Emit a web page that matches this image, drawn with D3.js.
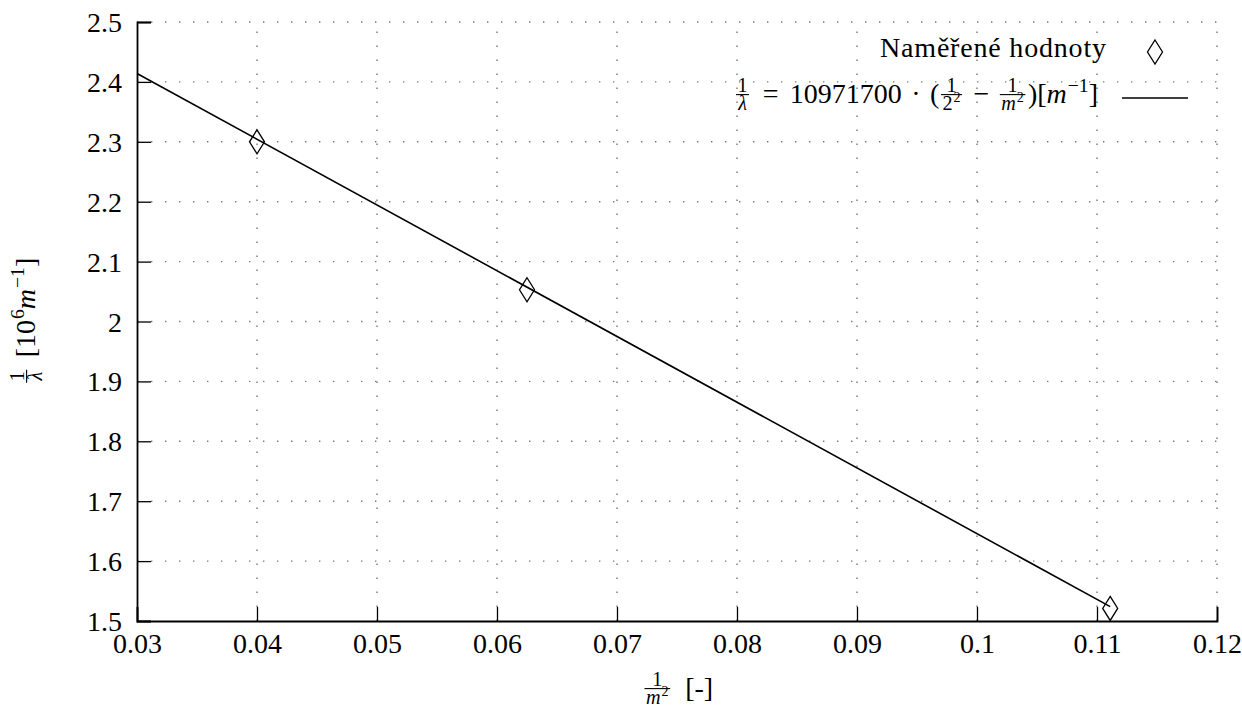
<!DOCTYPE html>
<html lang="cs">
<head>
  <meta charset="UTF-8">
  <title>Balmerova série</title>
  <script src="https://d3js.org/d3.v7.min.js"></script>
  <style>
    body { margin: 0; background: #fff; }
    svg text { font-family: "Liberation Serif", "DejaVu Serif", serif; fill: #000; }
  </style>
</head>
<body>
  <div id="chart"></div>

  <script>
    // data
    const xTicks = [0.03, 0.04, 0.05, 0.06, 0.07, 0.08, 0.09, 0.1, 0.11, 0.12];
    const yTicks = [1.5, 1.6, 1.7, 1.8, 1.9, 2.0, 2.1, 2.2, 2.3, 2.4, 2.5];
    const measX = [0.04, 0.0625, 0.1111];
    const measY = [2.30, 2.053, 1.521];
    const fitX = [0.03, 0.1111];
    const fitY = [2.414, 1.524];
    const legendLabels = ["Naměřené hodnoty", "fit"];

    const SERIF = "'Liberation Serif', 'DejaVu Serif', serif";
    const W = 1242, H = 708;
    const margin = { top: 22, right: 25, bottom: 87, left: 137 };
    const width = W - margin.left - margin.right;
    const height = H - margin.top - margin.bottom;
    const FS = 28;

    const svg = d3.select("#chart").append("svg")
      .attr("width", W)
      .attr("height", H)
      .attr("font-family", SERIF);

    const g = svg.append("g")
      .attr("transform", `translate(${margin.left},${margin.top})`);

    const x = d3.scaleLinear().domain([0.03, 0.12]).range([0, width]);
    const y = d3.scaleLinear().domain([1.5, 2.5]).range([height, 0]);

    // dotted grid
    g.append("g").selectAll("line")
      .data(xTicks.slice(1))
      .enter().append("line")
      .attr("x1", d => x(d)).attr("x2", d => x(d))
      .attr("y1", height).attr("y2", 0)
      .attr("stroke", "#777").attr("stroke-width", 1.4)
      .attr("stroke-dasharray", "1.4,12.6");

    g.append("g").selectAll("line")
      .data(yTicks.slice(1))
      .enter().append("line")
      .attr("x1", 0).attr("x2", width)
      .attr("y1", d => y(d)).attr("y2", d => y(d))
      .attr("stroke", "#777").attr("stroke-width", 1.4)
      .attr("stroke-dasharray", "1.4,12.6");

    // axes (left + bottom, ticks inside)
    const axX = g.append("g")
      .attr("transform", `translate(0,${height})`)
      .call(d3.axisBottom(x).tickValues(xTicks).tickSize(-14).tickPadding(12)
        .tickFormat(d => d3.format("~g")(+d.toFixed(2))));
    const axY = g.append("g")
      .call(d3.axisLeft(y).tickValues(yTicks).tickSize(-14).tickPadding(15)
        .tickFormat(d => d3.format("~g")(+d.toFixed(1))));

    [axX, axY].forEach(ax => {
      ax.attr("font-family", SERIF).attr("font-size", FS);
      ax.select(".domain").attr("stroke", "#000").attr("stroke-width", 1.8);
      ax.selectAll(".tick line").attr("stroke", "#000").attr("stroke-width", 1.3);
      ax.selectAll(".tick text")
        .style("font-family", SERIF)
        .style("font-size", FS + "px");
    });
    axY.selectAll(".tick text").attr("dy", "0.34em");
    axX.selectAll(".tick text").attr("dy", "0.72em");

    // fit line
    g.append("path")
      .datum(fitX.map((d, i) => [d, fitY[i]]))
      .attr("d", d3.line().x(d => x(d[0])).y(d => y(d[1])))
      .attr("fill", "none")
      .attr("stroke", "#000")
      .attr("stroke-width", 1.6);

    // measured points
    const diamond = "M0,-12L7.5,0L0,12L-7.5,0Z";
    g.selectAll(".pt")
      .data(measX.map((d, i) => [d, measY[i]]))
      .enter().append("path")
      .attr("class", "pt")
      .attr("d", diamond)
      .attr("transform", d => `translate(${x(d[0])},${y(d[1])})`)
      .attr("fill", "none")
      .attr("stroke", "#000")
      .attr("stroke-width", 1.3);

    // --- small math typesetter: pieces laid out left to right ---
    function layout(parent, pieces, x0, base, size) {
      let cx = x0;
      pieces.forEach(p => {
        if (typeof p === "string") p = { t: p };
        if (p.gap) { cx += p.gap * size; return; }
        if (p.frac) {
          const fs = size * 0.72;
          const bar = base - size * 0.3;
          const tmp = parent.append("g");
          const nw = layout(tmp, p.frac[0], 0, bar - size * 0.1, fs);
          const dw = layout(tmp, p.frac[1], 0, bar + size * 0.56, fs);
          tmp.remove();
          const fw = Math.max(nw, dw) + 6;
          layout(parent, p.frac[0], cx + (fw - nw) / 2, bar - size * 0.1, fs);
          layout(parent, p.frac[1], cx + (fw - dw) / 2, bar + size * 0.56, fs);
          parent.append("line")
            .attr("x1", cx + 1.5).attr("x2", cx + fw - 1.5)
            .attr("y1", bar).attr("y2", bar)
            .attr("stroke", "#000").attr("stroke-width", 1.1);
          cx += fw + 1;
          return;
        }
        const t = parent.append("text")
          .attr("x", cx).attr("y", base)
          .style("font-family", SERIF)
          .style("font-size", size + "px")
          .style("font-style", p.i ? "italic" : "normal")
          .text(p.t);
        cx += t.node().getComputedTextLength();
        if (p.sup) {
          const s = parent.append("text")
            .attr("x", cx + 1).attr("y", base - size * 0.4)
            .style("font-family", SERIF)
            .style("font-size", size * 0.7 + "px")
            .text(p.sup);
          cx += s.node().getComputedTextLength() + 1;
        }
      });
      return cx - x0;
    }

    const lambdaFrac = { frac: [["1"], [{ t: "λ", i: true }]] };
    const m2Frac = { frac: [["1"], [{ t: "m", i: true, sup: "2" }]] };

    // legend
    const legend = svg.append("g");
    legend.append("text")
      .attr("x", 1106).attr("y", 57)
      .attr("text-anchor", "end")
      .attr("textLength", 226)
      .attr("lengthAdjust", "spacing")
      .style("font-family", SERIF)
      .style("font-size", FS + "px")
      .text(legendLabels[0]);
    legend.append("path")
      .attr("d", diamond)
      .attr("transform", "translate(1155,52)")
      .attr("fill", "none").attr("stroke", "#000").attr("stroke-width", 1.3);

    const formula = [
      lambdaFrac, { gap: 0.4 }, "=", { gap: 0.4 }, "10971700", { gap: 0.34 }, "·", { gap: 0.34 }, "(",
      { frac: [["1"], [{ t: "2", sup: "2" }]] }, { gap: 0.32 }, "−", { gap: 0.32 }, m2Frac,
      ")[", { t: "m", i: true, sup: "−1" }, "]"
    ];
    const fg = legend.append("g");
    const fw = layout(fg, formula, 0, 103, FS);
    fg.attr("transform", `translate(${1098 - fw},0)`);
    legend.append("line")
      .attr("x1", 1122).attr("x2", 1188)
      .attr("y1", 98).attr("y2", 98)
      .attr("stroke", "#000").attr("stroke-width", 1.6);

    // x axis label
    const xl = svg.append("g");
    layout(xl, [m2Frac, { gap: 0.45 }, "[-]"], 0, 697, FS);
    xl.attr("transform", "translate(643,0)");

    // y axis label (rotated)
    const yl = svg.append("g");
    const ylw = layout(yl, [lambdaFrac, { gap: 0.35 }, "[10", { t: "", sup: "6" }, { t: "m", i: true, sup: "−1" }, "]"], 0, 0, FS);
    yl.attr("transform", `translate(35,${321 + ylw / 2}) rotate(-90)`);
  </script>
</body>
</html>
